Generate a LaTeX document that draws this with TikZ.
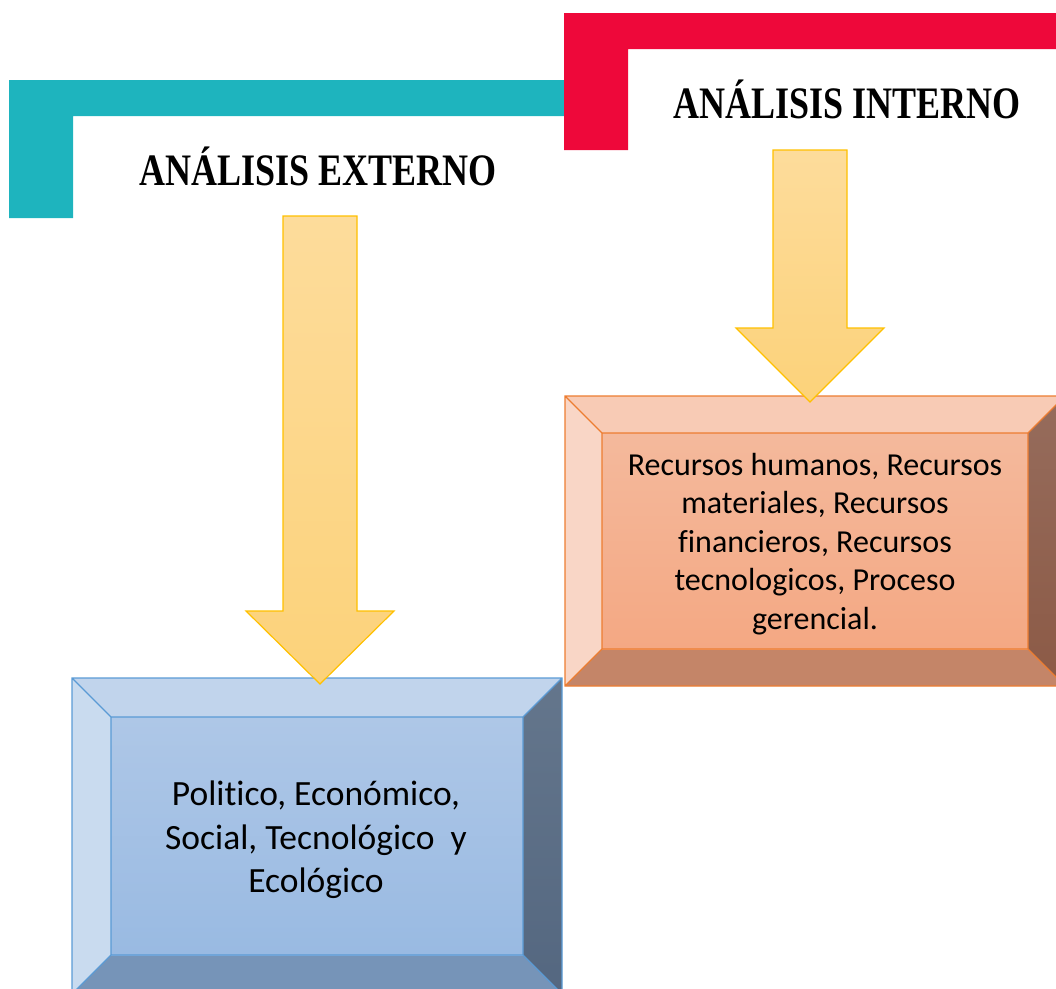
\documentclass[tikz,border=0pt]{standalone}
\usepackage{fontspec}
\usepackage{tikz}
\newfontfamily\headfont[FakeStretch=0.8]{Liberation Serif}
\newfontfamily\bodyfont[Ligatures=NoCommon]{Carlito}

\definecolor{tealbar}{RGB}{30,180,190}
\definecolor{redbar}{RGB}{238,8,58}
\definecolor{arrowline}{RGB}{255,192,0}
\definecolor{arrowtop}{RGB}{253,220,155}
\definecolor{arrowbot}{RGB}{252,210,122}
% blue box
\definecolor{bluetop}{RGB}{193,212,236}
\definecolor{blueleft}{RGB}{201,219,239}
\definecolor{bluefacetop}{RGB}{174,199,231}
\definecolor{bluefacebot}{RGB}{153,186,226}
\definecolor{bluebot}{RGB}{118,148,184}
\definecolor{bluerighttop}{RGB}{100,118,140}
\definecolor{bluerightbot}{RGB}{84,103,128}
\definecolor{blueline}{RGB}{91,155,213}
% orange box
\definecolor{orangetop}{RGB}{248,203,181}
\definecolor{orangeleft}{RGB}{249,214,198}
\definecolor{orangefacetop}{RGB}{244,185,156}
\definecolor{orangefacebot}{RGB}{244,168,131}
\definecolor{orangebot}{RGB}{196,133,104}
\definecolor{orangerighttop}{RGB}{150,108,92}
\definecolor{orangerightbot}{RGB}{140,90,70}
\definecolor{orangeline}{RGB}{237,125,49}

\tikzset{
  head/.style={font=\headfont\bfseries\fontsize{45}{49}\selectfont, inner sep=0pt},
  boxtext/.style={font=\bodyfont, align=center, inner sep=0pt},
  arrowbody/.style={draw=arrowline, line width=1.2pt, line join=miter,
    top color=arrowtop, bottom color=arrowbot}
}

% block arrow: centre x, top, start of head, tip
\newcommand{\bigarrow}[4]{%
  \draw[arrowbody] (#1-37,#2) -- (#1+37,#2) -- (#1+37,#3) -- (#1+74,#3)
    -- (#1,#4) -- (#1-74,#3) -- (#1-37,#3) -- cycle;}

% bevelled box: left, top, right, bottom, depth, colour set
\newcommand{\bevelbox}[6]{%
  \fill[#6top] (#1,#2) -- (#3,#2) -- (#3-#5,#2+#5) -- (#1+#5,#2+#5) -- cycle;
  \fill[#6left] (#1,#2) -- (#1+#5,#2+#5) -- (#1+#5,#4-#5) -- (#1,#4) -- cycle;
  \fill[#6bot] (#1,#4) -- (#1+#5,#4-#5) -- (#3-#5,#4-#5) -- (#3,#4) -- cycle;
  \shade[top color=#6righttop, bottom color=#6rightbot]
    (#3,#2) -- (#3,#4) -- (#3-#5,#4-#5) -- (#3-#5,#2+#5) -- cycle;
  \shade[top color=#6facetop, bottom color=#6facebot]
    (#1+#5,#2+#5) rectangle (#3-#5,#4-#5);
  \draw[#6line, line width=1.2pt] (#1,#2) rectangle (#3,#4)
    (#1+#5,#2+#5) rectangle (#3-#5,#4-#5)
    (#1,#2) -- (#1+#5,#2+#5) (#3,#2) -- (#3-#5,#2+#5)
    (#1,#4) -- (#1+#5,#4-#5) (#3,#4) -- (#3-#5,#4-#5);}

\begin{document}
\begin{tikzpicture}[x=1pt, y=-1pt]
  \useasboundingbox (0,0) rectangle (1056,988);
  \clip (0,0) rectangle (1056,988);

  % corner bars
  \fill[tealbar] (9,80) -- (565,80) -- (565,116) -- (73,116) -- (73,218) -- (9,218) -- cycle;
  \fill[redbar] (564,13) -- (1056,13) -- (1056,49) -- (628,49) -- (628,150) -- (564,150) -- cycle;

  % headings
  \node[head] (ext) at (318,166) {ANÁLISIS EXTERNO};
  \node[head] (int) at (847,99) {ANÁLISIS INTERNO};

  % boxes
  \bevelbox{72}{678}{562}{994}{39}{blue}
  \bevelbox{565}{396}{1065}{686}{37}{orange}

  \node[boxtext, font=\bodyfont\fontsize{35.5}{43.5}\selectfont] (pest) at (316,840)
    {Politico, Económico,\\ Social, Tecnológico\ \ y\\ Ecológico};
  \node[boxtext, font=\bodyfont\fontsize{32}{38.5}\selectfont] (rec) at (815,544)
    {Recursos humanos, Recursos\\ materiales, Recursos\\ financieros, Recursos\\
     tecnologicos, Proceso\\ gerencial.};

  % arrows
  \bigarrow{320}{216}{611}{684}
  \bigarrow{810}{150}{328}{402}
\end{tikzpicture}
\end{document}
